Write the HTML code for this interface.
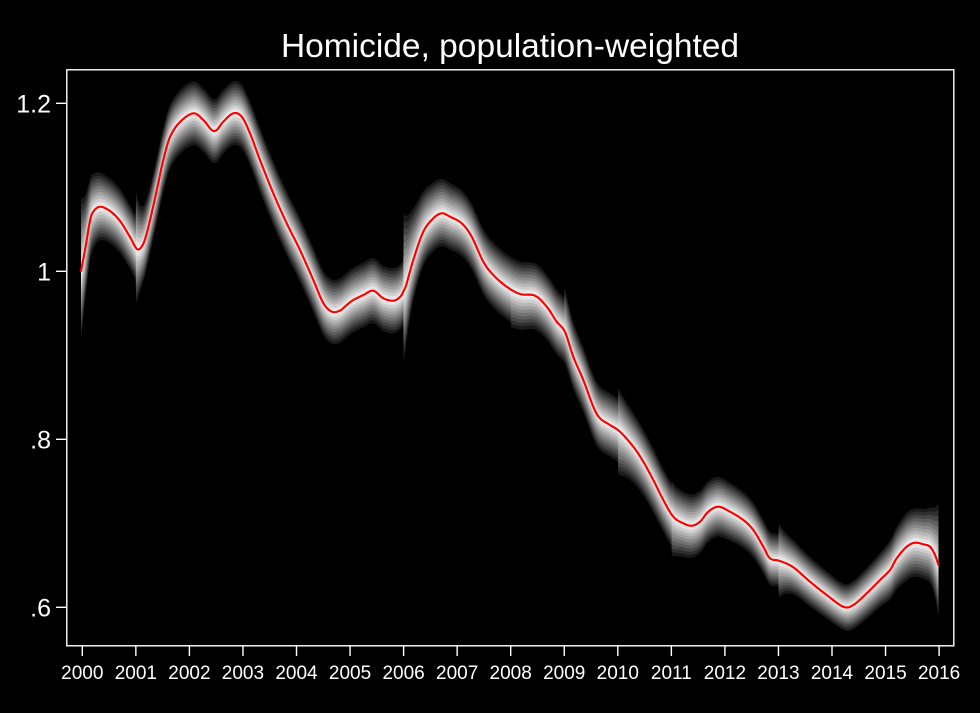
<!DOCTYPE html>
<html><head><meta charset="utf-8">
<style>
html,body{margin:0;padding:0;background:#000;}
svg{display:block;}
text{font-family:"Liberation Sans",Arial,sans-serif;fill:#fff;}
</style></head>
<body>
<svg id="s" width="980" height="713" viewBox="0 0 980 713" xmlns="http://www.w3.org/2000/svg">
<rect width="980" height="713" fill="#000"/>
<g id="bands"></g>
<polyline id="red" fill="none" stroke="#ff0000" stroke-width="2.2" stroke-linejoin="round" stroke-linecap="round" points="81,271 85,250 90,221 93.3,211.7 100,206.7 110,211 120,221 130,237 137,249 142,246 146,236 151.7,213 158.3,183 163.3,160 170,137 180,122 193.3,113.3 203.3,120 211.7,130 216.7,130 223.3,121.7 233.3,113.3 241.7,116.7 250,133.3 260,160 273.3,193.3 286.7,223.3 300,250 313.3,280 323.3,303 332,311.7 340,310.5 346.7,305 353.3,300 363.3,295 373.3,290.7 383.3,298.3 393.3,300.7 400,297 403.3,291.7 406.7,283.3 413.3,260 423.3,231.7 433.3,218.3 441.7,213.3 450,216.7 461.7,223.3 471.7,236.7 483.3,261.7 493.3,275 506.7,286.7 520,294 535,295.7 546.7,306.7 556.7,321.7 565,332 573.3,356.7 583.3,380 593.3,406.7 600,418.3 610,425 620,431.7 633.3,446.7 643.3,461.7 653.3,480 663.3,500 673.3,516.7 683.3,523.3 691.7,525.7 700,521.7 708.3,511.7 718.3,506.7 730,511.7 743.3,520 753.3,530 763.3,546.7 770,558.3 780,561 793.3,567.3 810,581.7 826.7,595 843.3,606.7 853.3,605 866.7,593.3 880,580 890,570 896.7,558.3 906.7,546.7 915,542.7 923.3,544.3 930,546.7 935,555 938.5,565"/>
<rect x="66.8" y="69.8" width="887" height="576" fill="none" stroke="#fff" stroke-width="1.4"/>
<g stroke="#fff" stroke-width="1.4">
<line x1="56" y1="103.3" x2="66.8" y2="103.3"/>
<line x1="56" y1="271.3" x2="66.8" y2="271.3"/>
<line x1="56" y1="439.3" x2="66.8" y2="439.3"/>
<line x1="56" y1="607.3" x2="66.8" y2="607.3"/>
<line x1="82.3" y1="646" x2="82.3" y2="656"/>
<line x1="135.85" y1="646" x2="135.85" y2="656"/>
<line x1="189.4" y1="646" x2="189.4" y2="656"/>
<line x1="242.95" y1="646" x2="242.95" y2="656"/>
<line x1="296.5" y1="646" x2="296.5" y2="656"/>
<line x1="350.05" y1="646" x2="350.05" y2="656"/>
<line x1="403.6" y1="646" x2="403.6" y2="656"/>
<line x1="457.15" y1="646" x2="457.15" y2="656"/>
<line x1="510.7" y1="646" x2="510.7" y2="656"/>
<line x1="564.25" y1="646" x2="564.25" y2="656"/>
<line x1="617.8" y1="646" x2="617.8" y2="656"/>
<line x1="671.35" y1="646" x2="671.35" y2="656"/>
<line x1="724.9" y1="646" x2="724.9" y2="656"/>
<line x1="778.45" y1="646" x2="778.45" y2="656"/>
<line x1="832" y1="646" x2="832" y2="656"/>
<line x1="885.55" y1="646" x2="885.55" y2="656"/>
<line x1="939.1" y1="646" x2="939.1" y2="656"/>
</g>
<text x="510" y="57" font-size="33.5" text-anchor="middle">Homicide, population-weighted</text>
<g font-size="25" text-anchor="end">
<text x="51" y="112.5">1.2</text>
<text x="51" y="280.5">1</text>
<text x="51" y="448.5">.8</text>
<text x="51" y="616.5">.6</text>
</g>
<g font-size="19" text-anchor="middle">
<text x="82.3" y="679">2000</text>
<text x="135.85" y="679">2001</text>
<text x="189.4" y="679">2002</text>
<text x="242.95" y="679">2003</text>
<text x="296.5" y="679">2004</text>
<text x="350.05" y="679">2005</text>
<text x="403.6" y="679">2006</text>
<text x="457.15" y="679">2007</text>
<text x="510.7" y="679">2008</text>
<text x="564.25" y="679">2009</text>
<text x="617.8" y="679">2010</text>
<text x="671.35" y="679">2011</text>
<text x="724.9" y="679">2012</text>
<text x="778.45" y="679">2013</text>
<text x="832" y="679">2014</text>
<text x="885.55" y="679">2015</text>
<text x="939.1" y="679">2016</text>
</g>
</svg>
<script>
(function(){
var red=document.getElementById('red');
var P=red.getAttribute('points').trim().split(/\s+/).map(function(s){var a=s.split(',');return [parseFloat(a[0]),parseFloat(a[1])];});
function cr(a,b,c,d,t){var t2=t*t,t3=t2*t;return 0.5*((2*b)+(-a+c)*t+(2*a-5*b+4*c-d)*t2+(-a+3*b-3*c+d)*t3);}
var S=[];
for(var i=0;i<P.length-1;i++){
 var p0=P[Math.max(i-1,0)],p1=P[i],p2=P[i+1],p3=P[Math.min(i+2,P.length-1)];
 var n=Math.max(2,Math.ceil((p2[0]-p1[0])*2));
 for(var j=0;j<n;j++){var t=j/n;S.push([cr(p0[0],p1[0],p2[0],p3[0],t),cr(p0[1],p1[1],p2[1],p3[1],t)]);}
}
S.push(P[P.length-1]);
var A=[[81,32],[300,32],[450,33],[700,31],[760,27],[800,25],[843,23],[880,27],[906,34],[938.5,34]];
function base(x){
 if(x<=A[0][0])return A[0][1];
 for(var i=0;i<A.length-1;i++){if(x<=A[i+1][0]){var f=(x-A[i][0])/(A[i+1][0]-A[i][0]);return A[i][1]+f*(A[i+1][1]-A[i][1]);}}
 return A[A.length-1][1];
}
var SP=[
 {x:81,u:42,du:6.3,d:38,dd:6},
 {x:135.9,u:26,du:5,d:25,dd:5},
 {x:403.6,u:46,du:11,d:40,dd:6},
 {x:510.7,u:0,du:5,d:5,dd:20},
 {x:564.3,u:12,du:6,d:0,dd:5},
 {x:617.8,u:11,du:10,d:14,dd:14},
 {x:671.4,u:3,du:8,d:10,dd:8},
 {x:778.5,u:12,du:8,d:12,dd:8}
];
function wu(x){var w=base(x);for(var i=0;i<SP.length;i++){var s=SP[i];if(x>=s.x)w+=s.u*Math.exp(-(x-s.x)/s.du);}
 if(x<=938.5)w+=28*Math.exp(-(938.5-x)/5);return w;}
function wd(x){var w=base(x);for(var i=0;i<SP.length;i++){var s=SP[i];if(x>=s.x)w+=s.d*Math.exp(-(x-s.x)/s.dd);}
 if(x<=938.5)w+=20*Math.exp(-(938.5-x)/4);return w;}
var WU=S.map(function(p){return wu(p[0]);}),WD=S.map(function(p){return wd(p[0]);});
var g=document.getElementById('bands');
var NS='http://www.w3.org/2000/svg';
var L=10;
for(var k=0;k<=L;k++){
 var f=(k<L)?(1-k*0.095):0.06;
 var c=(k<L)?Math.round(26+k*(228-26)/(L-1)):255;
 var up=[],dn=[];
 for(var i=0;i<S.length;i++){up.push(S[i][0].toFixed(2)+','+(S[i][1]-f*WU[i]).toFixed(2));dn.push(S[i][0].toFixed(2)+','+(S[i][1]+f*WD[i]).toFixed(2));}
 dn.reverse();
 var pg=document.createElementNS(NS,'polygon');
 pg.setAttribute('points',up.concat(dn).join(' '));
 pg.setAttribute('fill','rgb('+c+','+c+','+c+')');
 g.appendChild(pg);
}
red.setAttribute('points',S.map(function(p){return p[0].toFixed(2)+','+p[1].toFixed(2);}).join(' '));
})();
</script>
</body></html>
